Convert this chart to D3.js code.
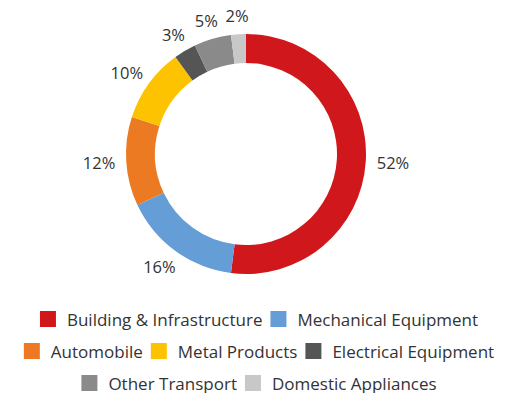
<!DOCTYPE html>
<html lang="en">
<head>
  <meta charset="UTF-8">
  <title>Donut</title>
  <script src="https://d3js.org/d3.v7.min.js"></script>
  <style>
    body { margin: 0; background: #fff; }
    svg { display: block; font-family: "Open Sans", sans-serif; }
    .pct { font-size: 16.5px; fill: #333; }
    .leg text { font-size: 17px; fill: #333; }
  </style>
</head>
<body>
<svg width="514" height="393"></svg>
<script>
  // données
  const categories = ["Building & Infrastructure", "Mechanical Equipment", "Automobile",
    "Metal Products", "Electrical Equipment", "Other Transport", "Domestic Appliances"];
  const shares = [52, 16, 12, 10, 3, 5, 2];
  const colors = ["#D0181C", "#659ED6", "#EC7A23", "#FDC300", "#555555", "#8A8A8A", "#C8C8C8"];
  const legendRows = [[0, 1], [2, 3, 4], [5, 6]];

  const svg = d3.select("svg");
  const cx = 246, cy = 154;
  const outerR = 120, innerR = 91;

  const pie = d3.pie().sort(null).value(d => d)(shares);
  const arc = d3.arc().innerRadius(innerR).outerRadius(outerR);

  const g = svg.append("g").attr("transform", `translate(${cx},${cy})`);

  g.selectAll("path")
    .data(pie)
    .enter().append("path")
    .attr("d", arc)
    .attr("fill", (d, i) => colors[i]);

  // étiquettes en % : le bord de la boîte touche le rayon labelR
  const labelR = 131;
  g.selectAll("text.pct")
    .data(pie)
    .enter().append("text")
    .attr("class", "pct")
    .attr("text-anchor", "middle")
    .attr("dominant-baseline", "central")
    .text(d => d.data + "%")
    .each(function(d) {
      const a = (d.startAngle + d.endAngle) / 2;
      const w = this.getComputedTextLength(), h = 16;
      d3.select(this)
        .attr("x", Math.sin(a) * (labelR + w / 2))
        .attr("y", -Math.cos(a) * (labelR + h / 2));
    });

  // légende
  const box = 16, gapText = 11, gapItem = 8, rowH = 32, legendCx = 259, legendTop = 319;
  legendRows.forEach((row, r) => {
    const rowG = svg.append("g").attr("class", "leg");
    let x = 0;
    row.forEach(i => {
      const item = rowG.append("g").attr("transform", `translate(${x},0)`);
      item.append("rect")
        .attr("x", 0).attr("y", -box / 2)
        .attr("width", box).attr("height", box)
        .attr("fill", colors[i]);
      const t = item.append("text")
        .attr("x", box + gapText)
        .attr("dominant-baseline", "central")
        .text(categories[i]);
      x += box + gapText + t.node().getComputedTextLength() + gapItem;
    });
    const w = x - gapItem;
    rowG.attr("transform", `translate(${legendCx - w / 2},${legendTop + r * rowH})`);
  });
</script>
</body>
</html>
